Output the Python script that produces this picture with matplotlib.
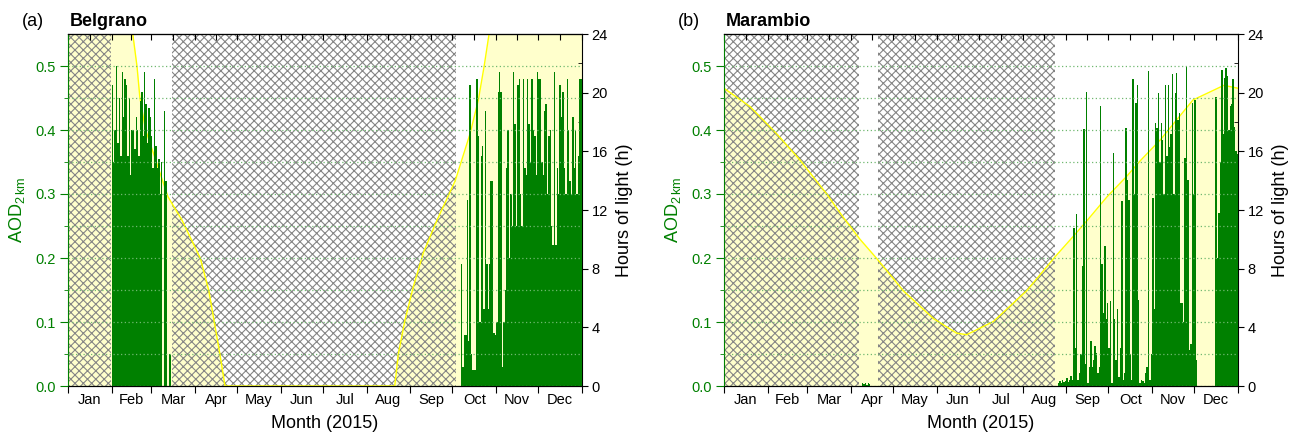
import numpy as np
import matplotlib
matplotlib.use('Agg')
import matplotlib.pyplot as plt

plt.rcParams['font.family'] = ['Liberation Sans', 'DejaVu Sans']
plt.rcParams['mathtext.default'] = 'regular'
plt.rcParams['hatch.linewidth'] = 0.8
plt.rcParams['hatch.color'] = '#858585'

# %% data
months = ['Jan', 'Feb', 'Mar', 'Apr', 'May', 'Jun',
          'Jul', 'Aug', 'Sep', 'Oct', 'Nov', 'Dec']
month_start = [0, 31, 59, 90, 120, 151, 181, 212, 243, 273, 304, 334, 365]

# Belgrano: hours of light (day of year, hours)
bel_light_day = [0, 46, 49, 51, 55, 63, 71, 81, 94, 100, 104, 108, 111.5,
                 232, 234.6, 239.3, 245.3, 252.4, 262, 275, 285.5, 291.4,
                 295.5, 299, 365]
bel_light_hours = [24, 24, 21.8, 19.7, 17.5, 15.2, 12.9, 11.3, 8.7, 6.5, 4.3,
                   2.1, 0, 0, 2.2, 4.5, 6.8, 9.1, 11.3, 14.0, 17.2, 19.5,
                   21.8, 24, 24]
# periods without measurements (hatched)
bel_gaps = [(0, 30.5), (73.6, 275.3)]
# daily AOD
bel_feb_start = 31
bel_feb_aod = [0.47, 0.35, 0.40, 0.50, 0.38, 0.45, 0.36, 0.49, 0.42, 0.48,
               0.47, 0.36, 0.45, 0.33, 0.40, 0.40, 0.37, 0.42, 0.40, 0.36,
               0.445, 0.46, 0.39, 0.49, 0.44, 0.38, 0.435, 0.42, 0.39, 0.34,
               0.48, 0.375, 0.34, 0.355, 0.30, 0.35, 0.0, 0.43, 0.32, 0.0,
               0.0, 0.05]
bel_oct_start = 279
bel_oct_aod = [0.19, 0.03, 0.08, 0.08, 0.29, 0.07, 0.47, 0.05, 0.025, 0.025,
               0.025, 0.48, 0.39, 0.10, 0.36, 0.375, 0.12, 0.43, 0.19, 0.12,
               0.19, 0.32, 0.32, 0.083, 0.08, 0.10, 0.46, 0.49, 0.46, 0.03,
               0.10, 0.15, 0.34, 0.40, 0.20, 0.30, 0.25, 0.49, 0.41, 0.25,
               0.47, 0.48, 0.30, 0.25, 0.48, 0.34, 0.33, 0.48, 0.41, 0.35,
               0.48, 0.40, 0.39, 0.33, 0.49, 0.48, 0.48, 0.35, 0.33, 0.43,
               0.44, 0.30, 0.39, 0.40, 0.25, 0.22, 0.49, 0.22, 0.34, 0.30,
               0.47, 0.42, 0.46, 0.34, 0.30, 0.48, 0.40, 0.32, 0.30, 0.42,
               0.34, 0.40, 0.30, 0.36, 0.48, 0.48]

# Marambio
mar_light_day = [0, 18.5, 37.4, 54, 72.9, 84.7, 96.6, 108.4, 127.3, 148.7,
                 165.3, 172.4, 191.3, 215, 235, 248, 258, 272, 286, 296, 310,
                 333, 355, 365]
mar_light_hours = [20.3, 19.05, 17.2, 15.4, 13.1, 11.5, 10.0, 8.7, 6.5, 4.6,
                   3.6, 3.5, 4.4, 6.5, 8.8, 10.2, 11.3, 12.9, 14.3, 15.4, 16.8,
                   19.5, 20.5, 20.3]
mar_gaps = [(0, 96.1), (109.2, 235.1)]
mar_apr_start = 98
mar_apr_aod = [0.005, 0.003, 0.004, 0.002, 0.004, 0.003]
mar_sep_start = 236
mar_sep_aod = [0.0, 0.005, 0.008, 0.005, 0.01, 0.006, 0.008, 0.012, 0.006, 0.01,
               0.015, 0.01, 0.247, 0.06, 0.268, 0.01, 0.02, 0.05, 0.187, 0.401,
               0.035, 0.46, 0.005, 0.03, 0.07, 0.03, 0.04, 0.062, 0.051, 0.02,
               0.03, 0.437, 0.19, 0.114, 0.218, 0.104, 0.13, 0.06, 0.133, 0.005,
               0.364, 0.104, 0.04, 0.12, 0.014, 0.06, 0.289, 0.01, 0.02, 0.403,
               0.322, 0.291, 0.05, 0.01, 0.479, 0.30, 0.442, 0.471, 0.134, 0.005,
               0.01, 0.008, 0.005, 0.02, 0.03, 0.492, 0.01, 0.05, 0.293, 0.12,
               0.411, 0.403, 0.458, 0.35, 0.411, 0.385, 0.30, 0.471, 0.359, 0.471,
               0.374, 0.394, 0.487, 0.30, 0.458, 0.489, 0.416, 0.427, 0.13, 0.13,
               0.10, 0.356, 0.50, 0.322, 0.057, 0.065, 0.442, 0.30, 0.447, 0.04,
               0, 0, 0, 0, 0, 0, 0, 0, 0, 0,
               0, 0, 0, 0.452, 0.2, 0.27, 0.35, 0.494, 0.394, 0.481,
               0.497, 0.484, 0.40, 0.437, 0.44, 0.479, 0.405, 0.367, 0.362]

GREEN = '#008000'
FS_TICK = 10.5
FS_LAB = 13


def panel(rect, light_day, light_hours, gaps, aod_blocks, letter, name):
    ax = fig.add_axes(rect)
    axh = ax.twinx()
    ax.set_zorder(axh.get_zorder() + 1)
    ax.patch.set_visible(False)

    # hours of light: yellow area + line, hatched no-data periods
    axh.fill_between(light_day, light_hours, 0, color='#ffffcc', lw=0, zorder=1)
    for x0, x1 in gaps:
        axh.axvspan(x0, x1, facecolor='none', edgecolor='#858585',
                    hatch='xxxx', lw=0, zorder=2)
    axh.plot(light_day, light_hours, color='#ffff00', lw=1, zorder=3)
    axh.set_ylim(0, 24)
    axh.set_yticks(range(0, 25, 4))
    axh.set_yticks(range(2, 24, 4), minor=True)
    axh.tick_params(axis='y', which='major', direction='out', length=4,
                    labelsize=FS_TICK, pad=3)
    axh.tick_params(axis='y', which='minor', direction='in', length=3)
    axh.spines['left'].set_visible(False)
    axh.set_ylabel('Hours of light (h)', fontsize=FS_LAB, labelpad=6)

    # AOD bars
    for start, vals in aod_blocks:
        days = start + np.arange(len(vals)) + 0.5
        ax.bar(days, vals, width=1.0, color=GREEN, lw=0, zorder=1)

    ax.set_xlim(0, 365)
    ax.set_ylim(0, 0.55)
    ax.set_yticks(np.arange(0, 0.51, 0.1))
    ax.set_yticklabels(['%.1f' % v for v in np.arange(0, 0.51, 0.1)])
    ax.set_yticks([0.05, 0.15, 0.25, 0.35, 0.45], minor=True)
    ax.tick_params(axis='y', which='major', direction='out', length=6,
                   colors=GREEN, labelsize=FS_TICK, pad=3)
    ax.tick_params(axis='y', which='minor', direction='out', length=3,
                   colors=GREEN)
    ax.spines['left'].set_color(GREEN)
    ax.spines['right'].set_visible(False)
    ax.set_axisbelow(False)
    ax.grid(axis='y', which='both', color='#70b870', ls=(0, (1, 2)), lw=0.9)
    ax.set_ylabel('AOD$_{2\\,km}$', fontsize=FS_LAB, color=GREEN, labelpad=6)

    mids = [(a + b) / 2 for a, b in zip(month_start[:-1], month_start[1:])]
    ax.set_xticks(month_start)
    ax.set_xticklabels([])
    ax.set_xticks(mids, minor=True)
    ax.set_xticklabels(months, minor=True)
    ax.tick_params(axis='x', which='major', direction='out', length=5)
    ax.tick_params(axis='x', which='minor', length=0, labelsize=FS_TICK, pad=5)
    ax.set_xlabel('Month (2015)', fontsize=FS_LAB, labelpad=6)

    top = ax.secondary_xaxis('top')
    top.set_xticks(sorted(month_start + mids))
    top.set_xticklabels([])
    top.tick_params(direction='in', length=4)

    l = rect[0]
    fig.text(l - 46 / 1289, 1 - 21 / 434, letter, fontsize=FS_LAB, va='center')
    fig.text(l + 2 / 1289, 1 - 21 / 434, name, fontsize=FS_LAB,
             fontweight='bold', va='center')
    return ax


fig = plt.figure(figsize=(12.89, 4.34), dpi=100)
panel([68 / 1289, 48 / 434, 514 / 1289, 352 / 434],
      bel_light_day, bel_light_hours, bel_gaps,
      [(bel_feb_start, bel_feb_aod), (bel_oct_start, bel_oct_aod)],
      '(a)', 'Belgrano')
panel([724 / 1289, 48 / 434, 514 / 1289, 352 / 434],
      mar_light_day, mar_light_hours, mar_gaps,
      [(mar_apr_start, mar_apr_aod), (mar_sep_start, mar_sep_aod)],
      '(b)', 'Marambio')

fig.savefig('out.png', dpi=100)
